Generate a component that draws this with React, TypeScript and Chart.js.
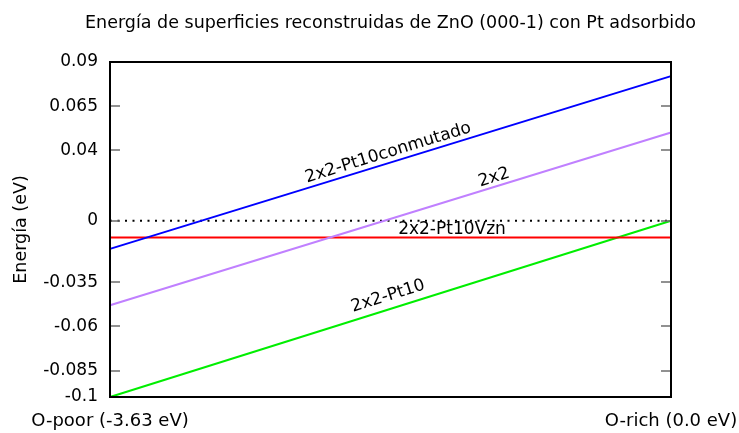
import React, { useEffect, useRef } from "react";
import { Chart, registerables } from "chart.js";

Chart.register(...registerables);

const TITLE = "Energía de superficies reconstruidas de ZnO (000-1) con Pt adsorbido";

// Oxygen chemical potential range (eV)
const X_MIN = -3.63;
const X_MAX = 0;
const xTickValues = [X_MIN, X_MAX];
const xTickLabels = ["O-poor (-3.63 eV)", "O-rich (0.0 eV)"];

// Energy axis ticks
const Y_MIN = -0.1;
const Y_MAX = 0.09;
const yTickValues = [0.09, 0.065, 0.04, 0, -0.035, -0.06, -0.085, -0.1];

// Surface energies at both ends of the range
const seriesNames = ["2x2-Pt10conmutado", "2x2", "2x2-Pt10Vzn", "2x2-Pt10"];
const seriesColors = ["#0000ff", "#c080ff", "#ff0000", "#00ee00"];
const energiesOPoor = [-0.016, -0.048, -0.0095, -0.1];
const energiesORich = [0.082, 0.05, -0.0095, 0.0];

// Where each curve's name is written (centre of the text, in axis units)
const labelMu = [-1.83, -1.145, -1.417, -1.83];
const labelE = [0.0385, 0.0245, -0.0052, -0.0428];

const FONT = "'DejaVu Sans', sans-serif";

const framePlugin = {
  id: "gnuplotFrame",
  afterDatasetsDraw(chart: any) {
    const { ctx, chartArea: a, scales } = chart;
    const x = scales.x;
    const y = scales.y;
    ctx.save();

    // inward tick marks on both vertical sides
    ctx.strokeStyle = "#6e6e6e";
    ctx.lineWidth = 1.5;
    ctx.beginPath();
    for (const v of yTickValues) {
      const py = Math.round(y.getPixelForValue(v));
      ctx.moveTo(a.left, py);
      ctx.lineTo(a.left + 10, py);
      ctx.moveTo(a.right - 10, py);
      ctx.lineTo(a.right, py);
    }
    ctx.stroke();

    // plot border
    ctx.strokeStyle = "#000";
    ctx.lineWidth = 2;
    ctx.strokeRect(a.left, a.top, a.right - a.left, a.bottom - a.top);

    // title, centred over the plot area
    ctx.fillStyle = "#000";
    ctx.font = `17.5px ${FONT}`;
    ctx.textAlign = "center";
    ctx.textBaseline = "middle";
    ctx.fillText(TITLE, (a.left + a.right) / 2, 23);

    // curve names written along each line
    ctx.font = `17px ${FONT}`;
    for (let i = 0; i < seriesNames.length; i++) {
      const dx = x.getPixelForValue(X_MAX) - x.getPixelForValue(X_MIN);
      const dy = y.getPixelForValue(energiesORich[i]) - y.getPixelForValue(energiesOPoor[i]);
      const ang = Math.atan2(dy, dx);
      ctx.save();
      ctx.translate(x.getPixelForValue(labelMu[i]), y.getPixelForValue(labelE[i]));
      ctx.rotate(ang);
      ctx.fillText(seriesNames[i], 0, 0);
      ctx.restore();
    }
    ctx.restore();
  },
};

export default function App() {
  const canvasRef = useRef<HTMLCanvasElement | null>(null);

  useEffect(() => {
    const canvas = canvasRef.current;
    if (!canvas) return;

    const zeroLine = {
      label: "zero",
      data: [
        { x: X_MIN, y: 0 },
        { x: X_MAX, y: 0 },
      ],
      borderColor: "#000",
      borderWidth: 2,
      borderDash: [2, 5.5],
      pointRadius: 0,
      clip: false as any,
      order: 10,
    };

    const curves = seriesNames.map((name, i) => ({
      label: name,
      data: [
        { x: X_MIN, y: energiesOPoor[i] },
        { x: X_MAX, y: energiesORich[i] },
      ],
      borderColor: seriesColors[i],
      borderWidth: 2,
      pointRadius: 0,
      clip: false as any,
      order: i,
    }));

    const chart = new Chart(canvas, {
      type: "line",
      data: { datasets: [zeroLine, ...curves] as any },
      plugins: [framePlugin],
      options: {
        animation: false,
        responsive: false,
        devicePixelRatio: 1,
        layout: { padding: { left: 0, right: 68, top: 62, bottom: 0 } },
        plugins: {
          legend: { display: false },
          tooltip: { enabled: false },
          title: { display: false },
        },
        scales: {
          x: {
            type: "linear",
            min: X_MIN,
            max: X_MAX,
            grid: { display: false, drawTicks: false },
            border: { display: false },
            afterBuildTicks: (s: any) => {
              s.ticks = xTickValues.map((v) => ({ value: v }));
            },
            afterFit: (s: any) => {
              s.height = 36;
              s.paddingLeft = 0;
              s.paddingRight = 0;
            },
            ticks: {
              color: "#000",
              padding: 14,
              maxRotation: 0,
              autoSkip: false,
              font: { family: FONT, size: 18 },
              callback: (v: any) => {
                const idx = xTickValues.findIndex((t) => Math.abs(t - Number(v)) < 1e-9);
                return idx >= 0 ? xTickLabels[idx] : "";
              },
            },
          },
          y: {
            type: "linear",
            min: Y_MIN,
            max: Y_MAX,
            grid: { display: false, drawTicks: false },
            border: { display: false },
            afterBuildTicks: (s: any) => {
              s.ticks = yTickValues.map((v) => ({ value: v }));
            },
            afterFit: (s: any) => {
              s.width = 110;
              s.paddingTop = 0;
              s.paddingBottom = 0;
            },
            title: {
              display: true,
              text: "Energía (eV)",
              color: "#000",
              font: { family: FONT, size: 17.5 },
              padding: { top: 11, bottom: 0 },
            },
            ticks: {
              color: "#000",
              padding: 12,
              autoSkip: false,
              font: { family: FONT, size: 17 },
              callback: (v: any) => String(Number(Number(v).toFixed(4))),
            },
          },
        },
      },
    });

    return () => chart.destroy();
  }, []);

  return (
    <div style={{ position: "fixed", left: 0, top: 0, width: 739, height: 433, background: "#fff" }}>
      <canvas ref={canvasRef} width={739} height={433} style={{ display: "block" }} />
    </div>
  );
}
